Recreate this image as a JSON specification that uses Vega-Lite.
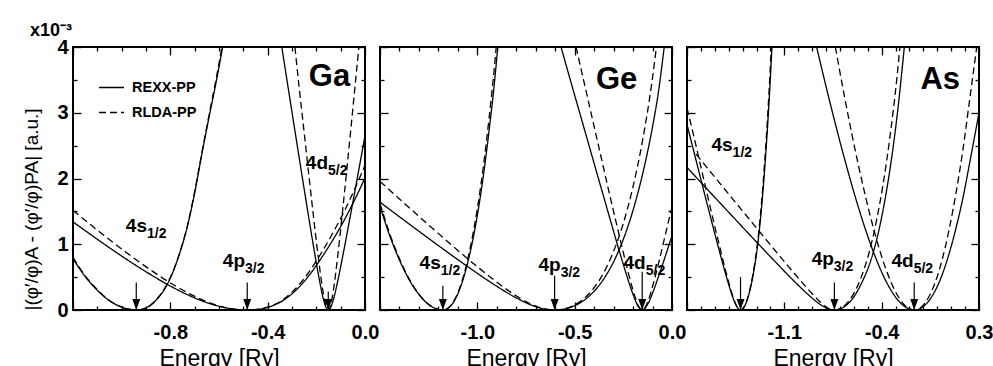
{
"$schema": "https://vega.github.io/schema/vega-lite/v6.json",
"padding": {"left": 21, "top": 21, "right": 5, "bottom": 5},
"bounds": "flush",
"spacing": 15,
"config": {
 "font": "Liberation Sans",
 "view": {"stroke": "black", "strokeWidth": 2},
 "axis": {"domain": false, "grid": false, "tickColor": "black", "tickWidth": 1.3, "labelFont": "Liberation Sans", "labelFontWeight": "bold", "labelFontSize": 20, "labelColor": "black", "titleFont": "Liberation Sans", "titleFontWeight": "normal", "titleColor": "black", "labelOverlap": false, "labelFlush": false},
 "text": {"font": "Liberation Sans", "fontWeight": "bold", "color": "black"}
},
"resolve": {"scale": {"strokeDash": "independent"}, "legend": {"strokeDash": "independent"}},
"datasets": {
 "curves": [
  {"p":"Ga","c":"4s","m":"REXX-PP","x":-1.2,"y":0.78},{"p":"Ga","c":"4s","m":"REXX-PP","x":-1.15,"y":0.51},{"p":"Ga","c":"4s","m":"REXX-PP","x":-1.1,"y":0.3},{"p":"Ga","c":"4s","m":"REXX-PP","x":-1.05,"y":0.14},{"p":"Ga","c":"4s","m":"REXX-PP","x":-1.0,"y":0.045},{"p":"Ga","c":"4s","m":"REXX-PP","x":-0.97,"y":0.012},{"p":"Ga","c":"4s","m":"REXX-PP","x":-0.94,"y":0},{"p":"Ga","c":"4s","m":"REXX-PP","x":-0.91,"y":0.018},{"p":"Ga","c":"4s","m":"REXX-PP","x":-0.88,"y":0.077},{"p":"Ga","c":"4s","m":"REXX-PP","x":-0.85,"y":0.185},{"p":"Ga","c":"4s","m":"REXX-PP","x":-0.82,"y":0.34},{"p":"Ga","c":"4s","m":"REXX-PP","x":-0.79,"y":0.57},{"p":"Ga","c":"4s","m":"REXX-PP","x":-0.76,"y":0.88},{"p":"Ga","c":"4s","m":"REXX-PP","x":-0.73,"y":1.27},{"p":"Ga","c":"4s","m":"REXX-PP","x":-0.7,"y":1.78},{"p":"Ga","c":"4s","m":"REXX-PP","x":-0.67,"y":2.38},{"p":"Ga","c":"4s","m":"REXX-PP","x":-0.64,"y":2.95},{"p":"Ga","c":"4s","m":"REXX-PP","x":-0.61,"y":3.5},{"p":"Ga","c":"4s","m":"REXX-PP","x":-0.585,"y":4.0},
  {"p":"Ga","c":"4s","m":"RLDA-PP","x":-1.2,"y":0.8},{"p":"Ga","c":"4s","m":"RLDA-PP","x":-1.15,"y":0.52},{"p":"Ga","c":"4s","m":"RLDA-PP","x":-1.1,"y":0.31},{"p":"Ga","c":"4s","m":"RLDA-PP","x":-1.05,"y":0.145},{"p":"Ga","c":"4s","m":"RLDA-PP","x":-1.0,"y":0.047},{"p":"Ga","c":"4s","m":"RLDA-PP","x":-0.97,"y":0.012},{"p":"Ga","c":"4s","m":"RLDA-PP","x":-0.94,"y":0},{"p":"Ga","c":"4s","m":"RLDA-PP","x":-0.91,"y":0.018},{"p":"Ga","c":"4s","m":"RLDA-PP","x":-0.88,"y":0.078},{"p":"Ga","c":"4s","m":"RLDA-PP","x":-0.85,"y":0.19},{"p":"Ga","c":"4s","m":"RLDA-PP","x":-0.82,"y":0.35},{"p":"Ga","c":"4s","m":"RLDA-PP","x":-0.79,"y":0.58},{"p":"Ga","c":"4s","m":"RLDA-PP","x":-0.76,"y":0.89},{"p":"Ga","c":"4s","m":"RLDA-PP","x":-0.73,"y":1.28},{"p":"Ga","c":"4s","m":"RLDA-PP","x":-0.7,"y":1.8},{"p":"Ga","c":"4s","m":"RLDA-PP","x":-0.67,"y":2.4},{"p":"Ga","c":"4s","m":"RLDA-PP","x":-0.64,"y":2.98},{"p":"Ga","c":"4s","m":"RLDA-PP","x":-0.61,"y":3.55},{"p":"Ga","c":"4s","m":"RLDA-PP","x":-0.588,"y":4.0},
  {"p":"Ga","c":"4p","m":"REXX-PP","x":-1.2,"y":1.341},{"p":"Ga","c":"4p","m":"REXX-PP","x":-1.084,"y":1.034},{"p":"Ga","c":"4p","m":"REXX-PP","x":-0.984,"y":0.781},{"p":"Ga","c":"4p","m":"REXX-PP","x":-0.884,"y":0.545},{"p":"Ga","c":"4p","m":"REXX-PP","x":-0.784,"y":0.333},{"p":"Ga","c":"4p","m":"REXX-PP","x":-0.684,"y":0.159},{"p":"Ga","c":"4p","m":"REXX-PP","x":-0.634,"y":0.092},{"p":"Ga","c":"4p","m":"REXX-PP","x":-0.584,"y":0.042},{"p":"Ga","c":"4p","m":"REXX-PP","x":-0.534,"y":0.011},{"p":"Ga","c":"4p","m":"REXX-PP","x":-0.484,"y":0},{"p":"Ga","c":"4p","m":"REXX-PP","x":-0.434,"y":0.0125},{"p":"Ga","c":"4p","m":"REXX-PP","x":-0.384,"y":0.059},{"p":"Ga","c":"4p","m":"REXX-PP","x":-0.334,"y":0.151},{"p":"Ga","c":"4p","m":"REXX-PP","x":-0.284,"y":0.3},{"p":"Ga","c":"4p","m":"REXX-PP","x":-0.234,"y":0.506},{"p":"Ga","c":"4p","m":"REXX-PP","x":-0.184,"y":0.765},{"p":"Ga","c":"4p","m":"REXX-PP","x":-0.134,"y":1.054},{"p":"Ga","c":"4p","m":"REXX-PP","x":-0.084,"y":1.376},{"p":"Ga","c":"4p","m":"REXX-PP","x":-0.034,"y":1.74},{"p":"Ga","c":"4p","m":"REXX-PP","x":0,"y":2.01},
  {"p":"Ga","c":"4p","m":"RLDA-PP","x":-1.2,"y":1.515},{"p":"Ga","c":"4p","m":"RLDA-PP","x":-1.084,"y":1.168},{"p":"Ga","c":"4p","m":"RLDA-PP","x":-0.984,"y":0.883},{"p":"Ga","c":"4p","m":"RLDA-PP","x":-0.884,"y":0.616},{"p":"Ga","c":"4p","m":"RLDA-PP","x":-0.784,"y":0.376},{"p":"Ga","c":"4p","m":"RLDA-PP","x":-0.684,"y":0.18},{"p":"Ga","c":"4p","m":"RLDA-PP","x":-0.634,"y":0.104},{"p":"Ga","c":"4p","m":"RLDA-PP","x":-0.584,"y":0.047},{"p":"Ga","c":"4p","m":"RLDA-PP","x":-0.534,"y":0.012},{"p":"Ga","c":"4p","m":"RLDA-PP","x":-0.484,"y":0},{"p":"Ga","c":"4p","m":"RLDA-PP","x":-0.434,"y":0.014},{"p":"Ga","c":"4p","m":"RLDA-PP","x":-0.384,"y":0.065},{"p":"Ga","c":"4p","m":"RLDA-PP","x":-0.334,"y":0.166},{"p":"Ga","c":"4p","m":"RLDA-PP","x":-0.284,"y":0.33},{"p":"Ga","c":"4p","m":"RLDA-PP","x":-0.234,"y":0.557},{"p":"Ga","c":"4p","m":"RLDA-PP","x":-0.184,"y":0.84},{"p":"Ga","c":"4p","m":"RLDA-PP","x":-0.134,"y":1.16},{"p":"Ga","c":"4p","m":"RLDA-PP","x":-0.084,"y":1.51},{"p":"Ga","c":"4p","m":"RLDA-PP","x":-0.034,"y":1.91},{"p":"Ga","c":"4p","m":"RLDA-PP","x":0,"y":2.2},
  {"p":"Ga","c":"4d","m":"REXX-PP","x":-0.342,"y":4.0},{"p":"Ga","c":"4d","m":"REXX-PP","x":-0.311,"y":3.267},{"p":"Ga","c":"4d","m":"REXX-PP","x":-0.281,"y":2.562},{"p":"Ga","c":"4d","m":"REXX-PP","x":-0.251,"y":1.863},{"p":"Ga","c":"4d","m":"REXX-PP","x":-0.231,"y":1.403},{"p":"Ga","c":"4d","m":"REXX-PP","x":-0.211,"y":0.954},{"p":"Ga","c":"4d","m":"REXX-PP","x":-0.191,"y":0.529},{"p":"Ga","c":"4d","m":"REXX-PP","x":-0.171,"y":0.167},{"p":"Ga","c":"4d","m":"REXX-PP","x":-0.161,"y":0.046},{"p":"Ga","c":"4d","m":"REXX-PP","x":-0.151,"y":0},{"p":"Ga","c":"4d","m":"REXX-PP","x":-0.141,"y":0.04},{"p":"Ga","c":"4d","m":"REXX-PP","x":-0.131,"y":0.145},{"p":"Ga","c":"4d","m":"REXX-PP","x":-0.111,"y":0.459},{"p":"Ga","c":"4d","m":"REXX-PP","x":-0.091,"y":0.828},{"p":"Ga","c":"4d","m":"REXX-PP","x":-0.071,"y":1.218},{"p":"Ga","c":"4d","m":"REXX-PP","x":-0.051,"y":1.616},{"p":"Ga","c":"4d","m":"REXX-PP","x":-0.021,"y":2.223},{"p":"Ga","c":"4d","m":"REXX-PP","x":0,"y":2.65},
  {"p":"Ga","c":"4d","m":"RLDA-PP","x":-0.288,"y":4.0},{"p":"Ga","c":"4d","m":"RLDA-PP","x":-0.271,"y":3.4},{"p":"Ga","c":"4d","m":"RLDA-PP","x":-0.251,"y":2.733},{"p":"Ga","c":"4d","m":"RLDA-PP","x":-0.231,"y":2.06},{"p":"Ga","c":"4d","m":"RLDA-PP","x":-0.211,"y":1.4},{"p":"Ga","c":"4d","m":"RLDA-PP","x":-0.191,"y":0.776},{"p":"Ga","c":"4d","m":"RLDA-PP","x":-0.171,"y":0.246},{"p":"Ga","c":"4d","m":"RLDA-PP","x":-0.161,"y":0.068},{"p":"Ga","c":"4d","m":"RLDA-PP","x":-0.151,"y":0},{"p":"Ga","c":"4d","m":"RLDA-PP","x":-0.141,"y":0.075},{"p":"Ga","c":"4d","m":"RLDA-PP","x":-0.131,"y":0.272},{"p":"Ga","c":"4d","m":"RLDA-PP","x":-0.111,"y":0.858},{"p":"Ga","c":"4d","m":"RLDA-PP","x":-0.091,"y":1.548},{"p":"Ga","c":"4d","m":"RLDA-PP","x":-0.071,"y":2.276},{"p":"Ga","c":"4d","m":"RLDA-PP","x":-0.051,"y":3.022},{"p":"Ga","c":"4d","m":"RLDA-PP","x":-0.031,"y":3.78},{"p":"Ga","c":"4d","m":"RLDA-PP","x":-0.025,"y":4.0},
  {"p":"Ge","c":"4s","m":"REXX-PP","x":-1.5,"y":1.58},{"p":"Ge","c":"4s","m":"REXX-PP","x":-1.45,"y":1.13},{"p":"Ge","c":"4s","m":"REXX-PP","x":-1.4,"y":0.76},{"p":"Ge","c":"4s","m":"REXX-PP","x":-1.35,"y":0.46},{"p":"Ge","c":"4s","m":"REXX-PP","x":-1.3,"y":0.235},{"p":"Ge","c":"4s","m":"REXX-PP","x":-1.25,"y":0.083},{"p":"Ge","c":"4s","m":"REXX-PP","x":-1.21,"y":0.017},{"p":"Ge","c":"4s","m":"REXX-PP","x":-1.177,"y":0},{"p":"Ge","c":"4s","m":"REXX-PP","x":-1.15,"y":0.028},{"p":"Ge","c":"4s","m":"REXX-PP","x":-1.12,"y":0.13},{"p":"Ge","c":"4s","m":"REXX-PP","x":-1.09,"y":0.32},{"p":"Ge","c":"4s","m":"REXX-PP","x":-1.06,"y":0.6},{"p":"Ge","c":"4s","m":"REXX-PP","x":-1.03,"y":0.97},{"p":"Ge","c":"4s","m":"REXX-PP","x":-1.0,"y":1.44},{"p":"Ge","c":"4s","m":"REXX-PP","x":-0.97,"y":2.02},{"p":"Ge","c":"4s","m":"REXX-PP","x":-0.94,"y":2.72},{"p":"Ge","c":"4s","m":"REXX-PP","x":-0.91,"y":3.52},{"p":"Ge","c":"4s","m":"REXX-PP","x":-0.895,"y":4.0},
  {"p":"Ge","c":"4s","m":"RLDA-PP","x":-1.5,"y":1.62},{"p":"Ge","c":"4s","m":"RLDA-PP","x":-1.45,"y":1.16},{"p":"Ge","c":"4s","m":"RLDA-PP","x":-1.4,"y":0.78},{"p":"Ge","c":"4s","m":"RLDA-PP","x":-1.35,"y":0.47},{"p":"Ge","c":"4s","m":"RLDA-PP","x":-1.3,"y":0.24},{"p":"Ge","c":"4s","m":"RLDA-PP","x":-1.25,"y":0.085},{"p":"Ge","c":"4s","m":"RLDA-PP","x":-1.21,"y":0.018},{"p":"Ge","c":"4s","m":"RLDA-PP","x":-1.177,"y":0},{"p":"Ge","c":"4s","m":"RLDA-PP","x":-1.15,"y":0.03},{"p":"Ge","c":"4s","m":"RLDA-PP","x":-1.12,"y":0.14},{"p":"Ge","c":"4s","m":"RLDA-PP","x":-1.09,"y":0.34},{"p":"Ge","c":"4s","m":"RLDA-PP","x":-1.06,"y":0.64},{"p":"Ge","c":"4s","m":"RLDA-PP","x":-1.03,"y":1.04},{"p":"Ge","c":"4s","m":"RLDA-PP","x":-1.0,"y":1.54},{"p":"Ge","c":"4s","m":"RLDA-PP","x":-0.97,"y":2.16},{"p":"Ge","c":"4s","m":"RLDA-PP","x":-0.94,"y":2.91},{"p":"Ge","c":"4s","m":"RLDA-PP","x":-0.91,"y":3.77},{"p":"Ge","c":"4s","m":"RLDA-PP","x":-0.903,"y":4.0},
  {"p":"Ge","c":"4p","m":"REXX-PP","x":-1.5,"y":1.64},{"p":"Ge","c":"4p","m":"REXX-PP","x":-1.403,"y":1.424},{"p":"Ge","c":"4p","m":"REXX-PP","x":-1.303,"y":1.204},{"p":"Ge","c":"4p","m":"REXX-PP","x":-1.203,"y":0.986},{"p":"Ge","c":"4p","m":"REXX-PP","x":-1.103,"y":0.772},{"p":"Ge","c":"4p","m":"REXX-PP","x":-1.003,"y":0.564},{"p":"Ge","c":"4p","m":"REXX-PP","x":-0.903,"y":0.366},{"p":"Ge","c":"4p","m":"REXX-PP","x":-0.803,"y":0.189},{"p":"Ge","c":"4p","m":"REXX-PP","x":-0.753,"y":0.114},{"p":"Ge","c":"4p","m":"REXX-PP","x":-0.703,"y":0.054},{"p":"Ge","c":"4p","m":"REXX-PP","x":-0.653,"y":0.014},{"p":"Ge","c":"4p","m":"REXX-PP","x":-0.603,"y":0},{"p":"Ge","c":"4p","m":"REXX-PP","x":-0.553,"y":0.015},{"p":"Ge","c":"4p","m":"REXX-PP","x":-0.503,"y":0.062},{"p":"Ge","c":"4p","m":"REXX-PP","x":-0.453,"y":0.146},{"p":"Ge","c":"4p","m":"REXX-PP","x":-0.403,"y":0.276},{"p":"Ge","c":"4p","m":"REXX-PP","x":-0.353,"y":0.462},{"p":"Ge","c":"4p","m":"REXX-PP","x":-0.303,"y":0.716},{"p":"Ge","c":"4p","m":"REXX-PP","x":-0.253,"y":1.052},{"p":"Ge","c":"4p","m":"REXX-PP","x":-0.203,"y":1.488},{"p":"Ge","c":"4p","m":"REXX-PP","x":-0.153,"y":2.043},{"p":"Ge","c":"4p","m":"REXX-PP","x":-0.103,"y":2.74},{"p":"Ge","c":"4p","m":"REXX-PP","x":-0.068,"y":3.35},{"p":"Ge","c":"4p","m":"REXX-PP","x":-0.04,"y":4.0},
  {"p":"Ge","c":"4p","m":"RLDA-PP","x":-1.5,"y":1.956},{"p":"Ge","c":"4p","m":"RLDA-PP","x":-1.403,"y":1.697},{"p":"Ge","c":"4p","m":"RLDA-PP","x":-1.303,"y":1.432},{"p":"Ge","c":"4p","m":"RLDA-PP","x":-1.203,"y":1.171},{"p":"Ge","c":"4p","m":"RLDA-PP","x":-1.103,"y":0.914},{"p":"Ge","c":"4p","m":"RLDA-PP","x":-1.003,"y":0.665},{"p":"Ge","c":"4p","m":"RLDA-PP","x":-0.903,"y":0.43},{"p":"Ge","c":"4p","m":"RLDA-PP","x":-0.803,"y":0.22},{"p":"Ge","c":"4p","m":"RLDA-PP","x":-0.753,"y":0.132},{"p":"Ge","c":"4p","m":"RLDA-PP","x":-0.703,"y":0.062},{"p":"Ge","c":"4p","m":"RLDA-PP","x":-0.653,"y":0.016},{"p":"Ge","c":"4p","m":"RLDA-PP","x":-0.603,"y":0},{"p":"Ge","c":"4p","m":"RLDA-PP","x":-0.553,"y":0.017},{"p":"Ge","c":"4p","m":"RLDA-PP","x":-0.503,"y":0.072},{"p":"Ge","c":"4p","m":"RLDA-PP","x":-0.453,"y":0.172},{"p":"Ge","c":"4p","m":"RLDA-PP","x":-0.403,"y":0.328},{"p":"Ge","c":"4p","m":"RLDA-PP","x":-0.353,"y":0.555},{"p":"Ge","c":"4p","m":"RLDA-PP","x":-0.303,"y":0.87},{"p":"Ge","c":"4p","m":"RLDA-PP","x":-0.253,"y":1.29},{"p":"Ge","c":"4p","m":"RLDA-PP","x":-0.203,"y":1.84},{"p":"Ge","c":"4p","m":"RLDA-PP","x":-0.153,"y":2.55},{"p":"Ge","c":"4p","m":"RLDA-PP","x":-0.103,"y":3.47},{"p":"Ge","c":"4p","m":"RLDA-PP","x":-0.08,"y":4.0},
  {"p":"Ge","c":"4d","m":"REXX-PP","x":-0.57,"y":4.0},{"p":"Ge","c":"4d","m":"REXX-PP","x":-0.533,"y":3.61},{"p":"Ge","c":"4d","m":"REXX-PP","x":-0.453,"y":2.78},{"p":"Ge","c":"4d","m":"REXX-PP","x":-0.373,"y":1.95},{"p":"Ge","c":"4d","m":"REXX-PP","x":-0.313,"y":1.33},{"p":"Ge","c":"4d","m":"REXX-PP","x":-0.272,"y":0.91},{"p":"Ge","c":"4d","m":"REXX-PP","x":-0.233,"y":0.53},{"p":"Ge","c":"4d","m":"REXX-PP","x":-0.203,"y":0.26},{"p":"Ge","c":"4d","m":"REXX-PP","x":-0.173,"y":0.052},{"p":"Ge","c":"4d","m":"REXX-PP","x":-0.153,"y":0},{"p":"Ge","c":"4d","m":"REXX-PP","x":-0.123,"y":0.098},{"p":"Ge","c":"4d","m":"REXX-PP","x":-0.093,"y":0.312},{"p":"Ge","c":"4d","m":"REXX-PP","x":-0.063,"y":0.564},{"p":"Ge","c":"4d","m":"REXX-PP","x":-0.033,"y":0.83},{"p":"Ge","c":"4d","m":"REXX-PP","x":0,"y":1.13},
  {"p":"Ge","c":"4d","m":"RLDA-PP","x":-0.493,"y":4.0},{"p":"Ge","c":"4d","m":"RLDA-PP","x":-0.453,"y":3.48},{"p":"Ge","c":"4d","m":"RLDA-PP","x":-0.373,"y":2.44},{"p":"Ge","c":"4d","m":"RLDA-PP","x":-0.313,"y":1.66},{"p":"Ge","c":"4d","m":"RLDA-PP","x":-0.273,"y":1.16},{"p":"Ge","c":"4d","m":"RLDA-PP","x":-0.233,"y":0.665},{"p":"Ge","c":"4d","m":"RLDA-PP","x":-0.203,"y":0.33},{"p":"Ge","c":"4d","m":"RLDA-PP","x":-0.173,"y":0.065},{"p":"Ge","c":"4d","m":"RLDA-PP","x":-0.153,"y":0},{"p":"Ge","c":"4d","m":"RLDA-PP","x":-0.123,"y":0.137},{"p":"Ge","c":"4d","m":"RLDA-PP","x":-0.093,"y":0.434},{"p":"Ge","c":"4d","m":"RLDA-PP","x":-0.063,"y":0.785},{"p":"Ge","c":"4d","m":"RLDA-PP","x":-0.033,"y":1.16},{"p":"Ge","c":"4d","m":"RLDA-PP","x":0,"y":1.57},
  {"p":"As","c":"4s","m":"REXX-PP","x":-1.8,"y":2.82},{"p":"As","c":"4s","m":"REXX-PP","x":-1.755,"y":2.446},{"p":"As","c":"4s","m":"REXX-PP","x":-1.695,"y":1.944},{"p":"As","c":"4s","m":"REXX-PP","x":-1.635,"y":1.447},{"p":"As","c":"4s","m":"REXX-PP","x":-1.575,"y":0.959},{"p":"As","c":"4s","m":"REXX-PP","x":-1.535,"y":0.645},{"p":"As","c":"4s","m":"REXX-PP","x":-1.495,"y":0.35},{"p":"As","c":"4s","m":"REXX-PP","x":-1.465,"y":0.16},{"p":"As","c":"4s","m":"REXX-PP","x":-1.435,"y":0.029},{"p":"As","c":"4s","m":"REXX-PP","x":-1.415,"y":0},{"p":"As","c":"4s","m":"REXX-PP","x":-1.385,"y":0.061},{"p":"As","c":"4s","m":"REXX-PP","x":-1.355,"y":0.238},{"p":"As","c":"4s","m":"REXX-PP","x":-1.325,"y":0.527},{"p":"As","c":"4s","m":"REXX-PP","x":-1.295,"y":0.936},{"p":"As","c":"4s","m":"REXX-PP","x":-1.265,"y":1.53},{"p":"As","c":"4s","m":"REXX-PP","x":-1.235,"y":2.33},{"p":"As","c":"4s","m":"REXX-PP","x":-1.205,"y":3.35},{"p":"As","c":"4s","m":"REXX-PP","x":-1.189,"y":4.0},
  {"p":"As","c":"4s","m":"RLDA-PP","x":-1.8,"y":3.07},{"p":"As","c":"4s","m":"RLDA-PP","x":-1.755,"y":2.68},{"p":"As","c":"4s","m":"RLDA-PP","x":-1.695,"y":2.13},{"p":"As","c":"4s","m":"RLDA-PP","x":-1.635,"y":1.58},{"p":"As","c":"4s","m":"RLDA-PP","x":-1.575,"y":1.05},{"p":"As","c":"4s","m":"RLDA-PP","x":-1.535,"y":0.705},{"p":"As","c":"4s","m":"RLDA-PP","x":-1.495,"y":0.383},{"p":"As","c":"4s","m":"RLDA-PP","x":-1.465,"y":0.175},{"p":"As","c":"4s","m":"RLDA-PP","x":-1.435,"y":0.032},{"p":"As","c":"4s","m":"RLDA-PP","x":-1.415,"y":0},{"p":"As","c":"4s","m":"RLDA-PP","x":-1.385,"y":0.064},{"p":"As","c":"4s","m":"RLDA-PP","x":-1.355,"y":0.25},{"p":"As","c":"4s","m":"RLDA-PP","x":-1.325,"y":0.553},{"p":"As","c":"4s","m":"RLDA-PP","x":-1.295,"y":0.983},{"p":"As","c":"4s","m":"RLDA-PP","x":-1.265,"y":1.61},{"p":"As","c":"4s","m":"RLDA-PP","x":-1.235,"y":2.45},{"p":"As","c":"4s","m":"RLDA-PP","x":-1.205,"y":3.52},{"p":"As","c":"4s","m":"RLDA-PP","x":-1.194,"y":4.0},
  {"p":"As","c":"4p","m":"REXX-PP","x":-1.8,"y":2.169},{"p":"As","c":"4p","m":"REXX-PP","x":-1.64,"y":1.804},{"p":"As","c":"4p","m":"REXX-PP","x":-1.54,"y":1.577},{"p":"As","c":"4p","m":"REXX-PP","x":-1.44,"y":1.35},{"p":"As","c":"4p","m":"REXX-PP","x":-1.34,"y":1.124},{"p":"As","c":"4p","m":"REXX-PP","x":-1.24,"y":0.9},{"p":"As","c":"4p","m":"REXX-PP","x":-1.14,"y":0.678},{"p":"As","c":"4p","m":"REXX-PP","x":-1.04,"y":0.461},{"p":"As","c":"4p","m":"REXX-PP","x":-0.94,"y":0.256},{"p":"As","c":"4p","m":"REXX-PP","x":-0.89,"y":0.162},{"p":"As","c":"4p","m":"REXX-PP","x":-0.84,"y":0.081},{"p":"As","c":"4p","m":"REXX-PP","x":-0.79,"y":0.022},{"p":"As","c":"4p","m":"REXX-PP","x":-0.74,"y":0},{"p":"As","c":"4p","m":"REXX-PP","x":-0.69,"y":0.024},{"p":"As","c":"4p","m":"REXX-PP","x":-0.64,"y":0.099},{"p":"As","c":"4p","m":"REXX-PP","x":-0.59,"y":0.232},{"p":"As","c":"4p","m":"REXX-PP","x":-0.54,"y":0.428},{"p":"As","c":"4p","m":"REXX-PP","x":-0.49,"y":0.681},{"p":"As","c":"4p","m":"REXX-PP","x":-0.44,"y":1.035},{"p":"As","c":"4p","m":"REXX-PP","x":-0.39,"y":1.519},{"p":"As","c":"4p","m":"REXX-PP","x":-0.34,"y":2.144},{"p":"As","c":"4p","m":"REXX-PP","x":-0.29,"y":2.936},{"p":"As","c":"4p","m":"REXX-PP","x":-0.237,"y":4.0},
  {"p":"As","c":"4p","m":"RLDA-PP","x":-1.735,"y":2.37},{"p":"As","c":"4p","m":"RLDA-PP","x":-1.64,"y":2.125},{"p":"As","c":"4p","m":"RLDA-PP","x":-1.54,"y":1.866},{"p":"As","c":"4p","m":"RLDA-PP","x":-1.44,"y":1.608},{"p":"As","c":"4p","m":"RLDA-PP","x":-1.34,"y":1.35},{"p":"As","c":"4p","m":"RLDA-PP","x":-1.24,"y":1.093},{"p":"As","c":"4p","m":"RLDA-PP","x":-1.14,"y":0.838},{"p":"As","c":"4p","m":"RLDA-PP","x":-1.04,"y":0.586},{"p":"As","c":"4p","m":"RLDA-PP","x":-0.94,"y":0.341},{"p":"As","c":"4p","m":"RLDA-PP","x":-0.89,"y":0.225},{"p":"As","c":"4p","m":"RLDA-PP","x":-0.84,"y":0.118},{"p":"As","c":"4p","m":"RLDA-PP","x":-0.79,"y":0.035},{"p":"As","c":"4p","m":"RLDA-PP","x":-0.74,"y":0},{"p":"As","c":"4p","m":"RLDA-PP","x":-0.69,"y":0.03},{"p":"As","c":"4p","m":"RLDA-PP","x":-0.64,"y":0.125},{"p":"As","c":"4p","m":"RLDA-PP","x":-0.59,"y":0.293},{"p":"As","c":"4p","m":"RLDA-PP","x":-0.54,"y":0.54},{"p":"As","c":"4p","m":"RLDA-PP","x":-0.49,"y":0.875},{"p":"As","c":"4p","m":"RLDA-PP","x":-0.44,"y":1.332},{"p":"As","c":"4p","m":"RLDA-PP","x":-0.39,"y":1.911},{"p":"As","c":"4p","m":"RLDA-PP","x":-0.34,"y":2.64},{"p":"As","c":"4p","m":"RLDA-PP","x":-0.29,"y":3.54},{"p":"As","c":"4p","m":"RLDA-PP","x":-0.269,"y":4.0},
  {"p":"As","c":"4d","m":"REXX-PP","x":-0.868,"y":4.0},{"p":"As","c":"4d","m":"REXX-PP","x":-0.766,"y":3.107},{"p":"As","c":"4d","m":"REXX-PP","x":-0.666,"y":2.291},{"p":"As","c":"4d","m":"REXX-PP","x":-0.566,"y":1.553},{"p":"As","c":"4d","m":"REXX-PP","x":-0.466,"y":0.92},{"p":"As","c":"4d","m":"REXX-PP","x":-0.416,"y":0.654},{"p":"As","c":"4d","m":"REXX-PP","x":-0.366,"y":0.427},{"p":"As","c":"4d","m":"REXX-PP","x":-0.316,"y":0.244},{"p":"As","c":"4d","m":"REXX-PP","x":-0.266,"y":0.11},{"p":"As","c":"4d","m":"REXX-PP","x":-0.216,"y":0.028},{"p":"As","c":"4d","m":"REXX-PP","x":-0.166,"y":0},{"p":"As","c":"4d","m":"REXX-PP","x":-0.116,"y":0.03},{"p":"As","c":"4d","m":"REXX-PP","x":-0.066,"y":0.125},{"p":"As","c":"4d","m":"REXX-PP","x":-0.016,"y":0.29},{"p":"As","c":"4d","m":"REXX-PP","x":0.034,"y":0.53},{"p":"As","c":"4d","m":"REXX-PP","x":0.084,"y":0.85},{"p":"As","c":"4d","m":"REXX-PP","x":0.134,"y":1.24},{"p":"As","c":"4d","m":"REXX-PP","x":0.184,"y":1.7},{"p":"As","c":"4d","m":"REXX-PP","x":0.234,"y":2.25},{"p":"As","c":"4d","m":"REXX-PP","x":0.3,"y":3.0},
  {"p":"As","c":"4d","m":"RLDA-PP","x":-0.733,"y":4.0},{"p":"As","c":"4d","m":"RLDA-PP","x":-0.666,"y":3.23},{"p":"As","c":"4d","m":"RLDA-PP","x":-0.566,"y":2.19},{"p":"As","c":"4d","m":"RLDA-PP","x":-0.466,"y":1.3},{"p":"As","c":"4d","m":"RLDA-PP","x":-0.416,"y":0.922},{"p":"As","c":"4d","m":"RLDA-PP","x":-0.366,"y":0.602},{"p":"As","c":"4d","m":"RLDA-PP","x":-0.316,"y":0.344},{"p":"As","c":"4d","m":"RLDA-PP","x":-0.266,"y":0.155},{"p":"As","c":"4d","m":"RLDA-PP","x":-0.216,"y":0.04},{"p":"As","c":"4d","m":"RLDA-PP","x":-0.166,"y":0},{"p":"As","c":"4d","m":"RLDA-PP","x":-0.116,"y":0.043},{"p":"As","c":"4d","m":"RLDA-PP","x":-0.066,"y":0.179},{"p":"As","c":"4d","m":"RLDA-PP","x":-0.016,"y":0.415},{"p":"As","c":"4d","m":"RLDA-PP","x":0.034,"y":0.758},{"p":"As","c":"4d","m":"RLDA-PP","x":0.084,"y":1.215},{"p":"As","c":"4d","m":"RLDA-PP","x":0.134,"y":1.773},{"p":"As","c":"4d","m":"RLDA-PP","x":0.184,"y":2.431},{"p":"As","c":"4d","m":"RLDA-PP","x":0.234,"y":3.218},{"p":"As","c":"4d","m":"RLDA-PP","x":0.284,"y":4.0}
 ],
 "labels": [
  {"p":"Ga","main":"4s","sub":"1/2","x":-0.896,"y":1.19},{"p":"Ga","main":"4p","sub":"3/2","x":-0.493,"y":0.65},{"p":"Ga","main":"4d","sub":"5/2","x":-0.152,"y":2.14},
  {"p":"Ge","main":"4s","sub":"1/2","x":-1.188,"y":0.62},{"p":"Ge","main":"4p","sub":"3/2","x":-0.572,"y":0.59},{"p":"Ge","main":"4d","sub":"5/2","x":-0.135,"y":0.62},
  {"p":"As","main":"4s","sub":"1/2","x":-1.472,"y":2.42},{"p":"As","main":"4p","sub":"3/2","x":-0.744,"y":0.68},{"p":"As","main":"4d","sub":"5/2","x":-0.17,"y":0.65}
 ],
 "arrows": [
  {"p":"Ga","x":-0.94,"ytop":0.42},{"p":"Ga","x":-0.484,"ytop":0.42},{"p":"Ga","x":-0.151,"ytop":0.28},
  {"p":"Ge","x":-1.177,"ytop":0.37},{"p":"Ge","x":-0.603,"ytop":0.52},{"p":"Ge","x":-0.153,"ytop":0.58},
  {"p":"As","x":-1.415,"ytop":0.5},{"p":"As","x":-0.74,"ytop":0.42},{"p":"As","x":-0.166,"ytop":0.42}
 ],
 "names": [
  {"p":"Ga","name":"Ga","x":-0.061,"y":3.41},{"p":"Ge","name":"Ge","x":-0.178,"y":3.36},{"p":"As","name":"As","x":0.164,"y":3.36}
 ]
},
"hconcat": [
 {
  "width": 292, "height": 263,
  "title": {"text": "x10⁻³", "anchor": "start", "frame": "group", "dx": -43, "fontSize": 18, "fontWeight": "bold", "font": "Liberation Sans", "offset": -17, "baseline": "alphabetic", "color": "black"},
  "resolve": {"axis": {"x": "independent", "y": "independent"}},
  "layer": [
   {"data": {"name": "curves"}, "transform": [{"filter": "datum.p === 'Ga'"}],
    "mark": {"type": "line", "clip": true, "color": "black", "strokeWidth": 1.3, "interpolate": "monotone"},
    "encoding": {
     "x": {"field": "x", "type": "quantitative", "scale": {"domain": [-1.2, 0], "nice": false, "zero": false},
       "axis": {"orient": "bottom", "values": [-1.2,-1.1,-1,-0.9,-0.8,-0.7,-0.6,-0.5,-0.4,-0.3,-0.2,-0.1,0], "title": "Energy [Ry]", "titleFontSize": 23, "titlePadding": 1,
         "labelExpr": "indexof([-0.8,-0.4,0], datum.value) >= 0 ? replace(format(datum.value, '.1f'), '\u2212', '-') : ''",
         "tickSize": {"condition": {"test": "indexof([-1.2,-0.8,-0.4,0], datum.value) >= 0", "value": -8}, "value": -4}, "labelPadding": 20}},
     "y": {"field": "y", "type": "quantitative", "scale": {"domain": [0, 4], "nice": false},
       "axis": {"orient": "left", "values": [0,0.5,1,1.5,2,2.5,3,3.5,4], "labelExpr": "datum.value % 1 === 0 ? format(datum.value, 'd') : ''",
         "tickSize": {"condition": {"test": "datum.value % 1 === 0", "value": -8}, "value": -4}, "labelPadding": 13,
         "title": "|(φ′/φ)A - (φ′/φ)PA|  [a.u.]", "titleFontSize": 19, "titleAnchor": "start", "titlePadding": 15}},
     "strokeDash": {"field": "m", "type": "nominal", "scale": {"domain": ["REXX-PP", "RLDA-PP"], "range": [[1, 0], [7, 4]]},
       "legend": {"orient": "none", "legendX": 25, "legendY": 27, "title": null, "symbolType": "stroke", "symbolSize": 625, "symbolStrokeWidth": 1.5, "symbolStrokeColor": "black", "labelFontSize": 14.5, "labelFontWeight": "bold", "labelFont": "Liberation Sans", "labelColor": "black", "labelOffset": 7, "rowPadding": 5, "padding": 0}},
     "detail": {"field": "c"}
    }},
   {"data": {"name": "arrows"}, "transform": [{"filter": "datum.p === 'Ga'"}],
    "mark": {"type": "rule", "color": "black", "strokeWidth": 1.2},
    "encoding": {"x": {"field": "x", "type": "quantitative", "scale": {"domain": [-1.2, 0], "nice": false, "zero": false}, "axis": null},
      "y": {"field": "ytop", "type": "quantitative", "scale": {"domain": [0, 4], "nice": false}, "axis": null}, "y2": {"datum": 0}}},
   {"data": {"name": "arrows"}, "transform": [{"filter": "datum.p === 'Ga'"}],
    "mark": {"type": "point", "shape": "M-0.36,-1L0.36,-1L0,0Z", "size": 484, "filled": true, "color": "black", "opacity": 1},
    "encoding": {"x": {"field": "x", "type": "quantitative", "scale": {"domain": [-1.2, 0], "nice": false, "zero": false}, "axis": null},
      "y": {"datum": 0, "type": "quantitative", "scale": {"domain": [0, 4], "nice": false}, "axis": null}}},
   {"data": {"name": "labels"}, "transform": [{"filter": "datum.p === 'Ga'"}],
    "mark": {"type": "text", "align": "right", "baseline": "alphabetic", "fontSize": 19, "fontWeight": "bold"},
    "encoding": {"x": {"field": "x", "type": "quantitative", "scale": {"domain": [-1.2, 0], "nice": false, "zero": false}, "axis": null},
      "y": {"field": "y", "type": "quantitative", "scale": {"domain": [0, 4], "nice": false}, "axis": null}, "text": {"field": "main"}}},
   {"data": {"name": "labels"}, "transform": [{"filter": "datum.p === 'Ga'"}],
    "mark": {"type": "text", "align": "left", "baseline": "alphabetic", "fontSize": 14, "fontWeight": "bold", "dy": 6},
    "encoding": {"x": {"field": "x", "type": "quantitative", "scale": {"domain": [-1.2, 0], "nice": false, "zero": false}, "axis": null},
      "y": {"field": "y", "type": "quantitative", "scale": {"domain": [0, 4], "nice": false}, "axis": null}, "text": {"field": "sub"}}},
   {"data": {"name": "names"}, "transform": [{"filter": "datum.p === 'Ga'"}],
    "mark": {"type": "text", "align": "right", "baseline": "alphabetic", "fontSize": 31, "fontWeight": "bold"},
    "encoding": {"x": {"field": "x", "type": "quantitative", "scale": {"domain": [-1.2, 0], "nice": false, "zero": false},
        "axis": {"orient": "top", "values": [-1.2,-1.1,-1,-0.9,-0.8,-0.7,-0.6,-0.5,-0.4,-0.3,-0.2,-0.1,0], "labels": false, "title": null,
          "tickSize": {"condition": {"test": "indexof([-1.2,-0.8,-0.4,0], datum.value) >= 0", "value": -8}, "value": -4}}},
      "y": {"field": "y", "type": "quantitative", "scale": {"domain": [0, 4], "nice": false},
        "axis": {"orient": "right", "values": [0,0.5,1,1.5,2,2.5,3,3.5,4], "labels": false, "title": null,
          "tickSize": {"condition": {"test": "datum.value % 1 === 0", "value": -8}, "value": -4}}},
      "text": {"field": "name"}}}
  ]
 },
 {
  "width": 292, "height": 263,
  "resolve": {"axis": {"x": "independent", "y": "independent"}},
  "layer": [
   {"data": {"name": "curves"}, "transform": [{"filter": "datum.p === 'Ge'"}],
    "mark": {"type": "line", "clip": true, "color": "black", "strokeWidth": 1.3, "interpolate": "monotone"},
    "encoding": {
     "x": {"field": "x", "type": "quantitative", "scale": {"domain": [-1.5, 0], "nice": false, "zero": false},
       "axis": {"orient": "bottom", "values": [-1.5,-1.4,-1.3,-1.2,-1.1,-1,-0.9,-0.8,-0.7,-0.6,-0.5,-0.4,-0.3,-0.2,-0.1,0], "title": "Energy [Ry]", "titleFontSize": 23, "titlePadding": 1,
         "labelExpr": "indexof([-1,-0.5,0], datum.value) >= 0 ? replace(format(datum.value, '.1f'), '\u2212', '-') : ''",
         "tickSize": {"condition": {"test": "indexof([-1.5,-1,-0.5,0], datum.value) >= 0", "value": -8}, "value": -4}, "labelPadding": 20}},
     "y": {"field": "y", "type": "quantitative", "scale": {"domain": [0, 4], "nice": false},
       "axis": {"orient": "left", "values": [0,0.5,1,1.5,2,2.5,3,3.5,4], "labels": false, "title": null,
         "tickSize": {"condition": {"test": "datum.value % 1 === 0", "value": -8}, "value": -4}}},
     "strokeDash": {"field": "m", "type": "nominal", "scale": {"domain": ["REXX-PP", "RLDA-PP"], "range": [[1, 0], [7, 4]]}, "legend": null},
     "detail": {"field": "c"}
    }},
   {"data": {"name": "arrows"}, "transform": [{"filter": "datum.p === 'Ge'"}],
    "mark": {"type": "rule", "color": "black", "strokeWidth": 1.2},
    "encoding": {"x": {"field": "x", "type": "quantitative", "scale": {"domain": [-1.5, 0], "nice": false, "zero": false}, "axis": null},
      "y": {"field": "ytop", "type": "quantitative", "scale": {"domain": [0, 4], "nice": false}, "axis": null}, "y2": {"datum": 0}}},
   {"data": {"name": "arrows"}, "transform": [{"filter": "datum.p === 'Ge'"}],
    "mark": {"type": "point", "shape": "M-0.36,-1L0.36,-1L0,0Z", "size": 484, "filled": true, "color": "black", "opacity": 1},
    "encoding": {"x": {"field": "x", "type": "quantitative", "scale": {"domain": [-1.5, 0], "nice": false, "zero": false}, "axis": null},
      "y": {"datum": 0, "type": "quantitative", "scale": {"domain": [0, 4], "nice": false}, "axis": null}}},
   {"data": {"name": "labels"}, "transform": [{"filter": "datum.p === 'Ge'"}],
    "mark": {"type": "text", "align": "right", "baseline": "alphabetic", "fontSize": 19, "fontWeight": "bold"},
    "encoding": {"x": {"field": "x", "type": "quantitative", "scale": {"domain": [-1.5, 0], "nice": false, "zero": false}, "axis": null},
      "y": {"field": "y", "type": "quantitative", "scale": {"domain": [0, 4], "nice": false}, "axis": null}, "text": {"field": "main"}}},
   {"data": {"name": "labels"}, "transform": [{"filter": "datum.p === 'Ge'"}],
    "mark": {"type": "text", "align": "left", "baseline": "alphabetic", "fontSize": 14, "fontWeight": "bold", "dy": 6},
    "encoding": {"x": {"field": "x", "type": "quantitative", "scale": {"domain": [-1.5, 0], "nice": false, "zero": false}, "axis": null},
      "y": {"field": "y", "type": "quantitative", "scale": {"domain": [0, 4], "nice": false}, "axis": null}, "text": {"field": "sub"}}},
   {"data": {"name": "names"}, "transform": [{"filter": "datum.p === 'Ge'"}],
    "mark": {"type": "text", "align": "right", "baseline": "alphabetic", "fontSize": 31, "fontWeight": "bold"},
    "encoding": {"x": {"field": "x", "type": "quantitative", "scale": {"domain": [-1.5, 0], "nice": false, "zero": false},
        "axis": {"orient": "top", "values": [-1.5,-1.4,-1.3,-1.2,-1.1,-1,-0.9,-0.8,-0.7,-0.6,-0.5,-0.4,-0.3,-0.2,-0.1,0], "labels": false, "title": null,
          "tickSize": {"condition": {"test": "indexof([-1.5,-1,-0.5,0], datum.value) >= 0", "value": -8}, "value": -4}}},
      "y": {"field": "y", "type": "quantitative", "scale": {"domain": [0, 4], "nice": false},
        "axis": {"orient": "right", "values": [0,0.5,1,1.5,2,2.5,3,3.5,4], "labels": false, "title": null,
          "tickSize": {"condition": {"test": "datum.value % 1 === 0", "value": -8}, "value": -4}}},
      "text": {"field": "name"}}}
  ]
 },
 {
  "width": 292, "height": 263,
  "resolve": {"axis": {"x": "independent", "y": "independent"}},
  "layer": [
   {"data": {"name": "curves"}, "transform": [{"filter": "datum.p === 'As'"}],
    "mark": {"type": "line", "clip": true, "color": "black", "strokeWidth": 1.3, "interpolate": "monotone"},
    "encoding": {
     "x": {"field": "x", "type": "quantitative", "scale": {"domain": [-1.8, 0.3], "nice": false, "zero": false},
       "axis": {"orient": "bottom", "values": [-1.8,-1.7,-1.6,-1.5,-1.4,-1.3,-1.2,-1.1,-1,-0.9,-0.8,-0.7,-0.6,-0.5,-0.4,-0.3,-0.2,-0.1,0,0.1,0.2,0.3], "title": "Energy [Ry]", "titleFontSize": 23, "titlePadding": 1,
         "labelExpr": "indexof([-1.1,-0.4,0.3], datum.value) >= 0 ? replace(format(datum.value, '.1f'), '\u2212', '-') : ''",
         "tickSize": {"condition": {"test": "indexof([-1.8,-1.1,-0.4,0.3], datum.value) >= 0", "value": -8}, "value": -4}, "labelPadding": 20}},
     "y": {"field": "y", "type": "quantitative", "scale": {"domain": [0, 4], "nice": false},
       "axis": {"orient": "left", "values": [0,0.5,1,1.5,2,2.5,3,3.5,4], "labels": false, "title": null,
         "tickSize": {"condition": {"test": "datum.value % 1 === 0", "value": -8}, "value": -4}}},
     "strokeDash": {"field": "m", "type": "nominal", "scale": {"domain": ["REXX-PP", "RLDA-PP"], "range": [[1, 0], [7, 4]]}, "legend": null},
     "detail": {"field": "c"}
    }},
   {"data": {"name": "arrows"}, "transform": [{"filter": "datum.p === 'As'"}],
    "mark": {"type": "rule", "color": "black", "strokeWidth": 1.2},
    "encoding": {"x": {"field": "x", "type": "quantitative", "scale": {"domain": [-1.8, 0.3], "nice": false, "zero": false}, "axis": null},
      "y": {"field": "ytop", "type": "quantitative", "scale": {"domain": [0, 4], "nice": false}, "axis": null}, "y2": {"datum": 0}}},
   {"data": {"name": "arrows"}, "transform": [{"filter": "datum.p === 'As'"}],
    "mark": {"type": "point", "shape": "M-0.36,-1L0.36,-1L0,0Z", "size": 484, "filled": true, "color": "black", "opacity": 1},
    "encoding": {"x": {"field": "x", "type": "quantitative", "scale": {"domain": [-1.8, 0.3], "nice": false, "zero": false}, "axis": null},
      "y": {"datum": 0, "type": "quantitative", "scale": {"domain": [0, 4], "nice": false}, "axis": null}}},
   {"data": {"name": "labels"}, "transform": [{"filter": "datum.p === 'As'"}],
    "mark": {"type": "text", "align": "right", "baseline": "alphabetic", "fontSize": 19, "fontWeight": "bold"},
    "encoding": {"x": {"field": "x", "type": "quantitative", "scale": {"domain": [-1.8, 0.3], "nice": false, "zero": false}, "axis": null},
      "y": {"field": "y", "type": "quantitative", "scale": {"domain": [0, 4], "nice": false}, "axis": null}, "text": {"field": "main"}}},
   {"data": {"name": "labels"}, "transform": [{"filter": "datum.p === 'As'"}],
    "mark": {"type": "text", "align": "left", "baseline": "alphabetic", "fontSize": 14, "fontWeight": "bold", "dy": 6},
    "encoding": {"x": {"field": "x", "type": "quantitative", "scale": {"domain": [-1.8, 0.3], "nice": false, "zero": false}, "axis": null},
      "y": {"field": "y", "type": "quantitative", "scale": {"domain": [0, 4], "nice": false}, "axis": null}, "text": {"field": "sub"}}},
   {"data": {"name": "names"}, "transform": [{"filter": "datum.p === 'As'"}],
    "mark": {"type": "text", "align": "right", "baseline": "alphabetic", "fontSize": 31, "fontWeight": "bold"},
    "encoding": {"x": {"field": "x", "type": "quantitative", "scale": {"domain": [-1.8, 0.3], "nice": false, "zero": false},
        "axis": {"orient": "top", "values": [-1.8,-1.7,-1.6,-1.5,-1.4,-1.3,-1.2,-1.1,-1,-0.9,-0.8,-0.7,-0.6,-0.5,-0.4,-0.3,-0.2,-0.1,0,0.1,0.2,0.3], "labels": false, "title": null,
          "tickSize": {"condition": {"test": "indexof([-1.8,-1.1,-0.4,0.3], datum.value) >= 0", "value": -8}, "value": -4}}},
      "y": {"field": "y", "type": "quantitative", "scale": {"domain": [0, 4], "nice": false},
        "axis": {"orient": "right", "values": [0,0.5,1,1.5,2,2.5,3,3.5,4], "labels": false, "title": null,
          "tickSize": {"condition": {"test": "datum.value % 1 === 0", "value": -8}, "value": -4}}},
      "text": {"field": "name"}}}
  ]
 }
]
}
